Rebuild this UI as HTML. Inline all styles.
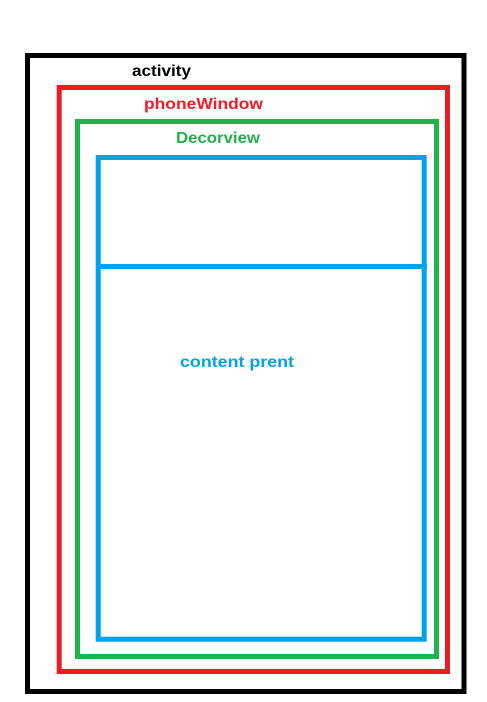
<!DOCTYPE html>
<html><head><meta charset="utf-8"><style>
html,body{margin:0;padding:0;background:#fff;}
svg{display:block;}
text{font-family:"Liberation Sans",sans-serif;font-weight:bold;font-size:16px;}
</style></head><body>
<svg width="487" height="702" viewBox="0 0 487 702">
<rect x="27.5" y="55.5" width="436.5" height="636" fill="none" stroke="#000" stroke-width="5"/>
<rect x="59.2" y="87.5" width="388.3" height="584" fill="none" stroke="#ed1c24" stroke-width="5"/>
<rect x="77.5" y="121.5" width="359" height="535" fill="none" stroke="#22b14c" stroke-width="5"/>
<rect x="98.2" y="157.5" width="326" height="481.7" fill="none" stroke="#00a2e8" stroke-width="5"/>
<line x1="96" y1="266.5" x2="427" y2="266.5" stroke="#00a2e8" stroke-width="5"/>
<text x="132" y="76" fill="#000" textLength="59" lengthAdjust="spacingAndGlyphs">activity</text>
<text x="144" y="109" fill="#ed1c24" textLength="119" lengthAdjust="spacingAndGlyphs">phoneWindow</text>
<text x="176" y="143" fill="#22b14c" textLength="84" lengthAdjust="spacingAndGlyphs">Decorview</text>
<text x="180" y="367" fill="#00a2e8" textLength="114" lengthAdjust="spacingAndGlyphs">content  prent</text>
</svg>
</body></html>
